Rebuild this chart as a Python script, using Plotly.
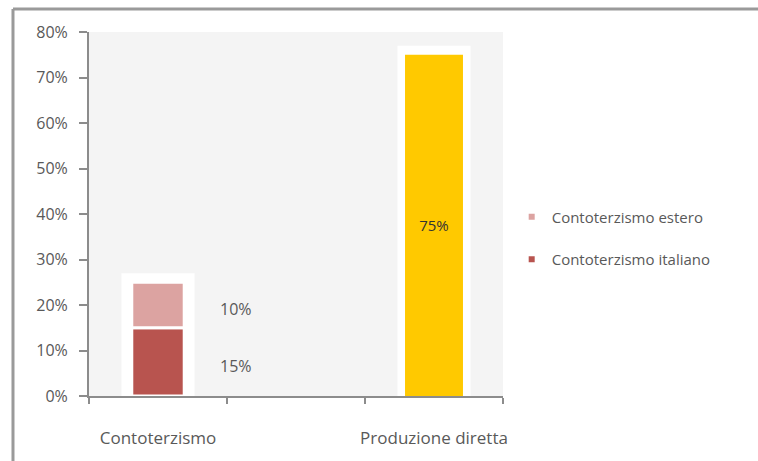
import plotly.graph_objects as go

# Category slots: the middle slot is intentionally empty
categories = ["Contoterzismo", "", "Produzione diretta"]
cat_pos = [0, 1, 2]

# Shares (%) for the stacked "Contoterzismo" column
italiano = [15]
estero = [10]
# Share (%) for the "Produzione diretta" column
diretta = [75]

y_ticks = [0, 10, 20, 30, 40, 50, 60, 70, 80]
y_labels = [f"{v}%" for v in y_ticks]

COL_ITALIANO = "#b8544f"
COL_ESTERO = "#dca3a1"
COL_DIRETTA = "#ffc900"
TEXT = "#595959"
AXIS = "#8c8c8c"
FONT = "Open Sans"

fig = go.Figure()

# white halo behind each column
totals = [italiano[0] + estero[0], diretta[0]]
fig.add_trace(go.Bar(
    x=[cat_pos[0], cat_pos[2]], y=[t + 2 for t in totals], width=0.53,
    marker=dict(color="white", line=dict(width=0)),
    showlegend=False, hoverinfo="skip",
))

# stacked segments (manual stacking in overlay mode)
fig.add_trace(go.Bar(
    x=[cat_pos[0]], y=italiano, width=0.38, name="Contoterzismo italiano",
    marker=dict(color=COL_ITALIANO, line=dict(color="white", width=3)),
    showlegend=False,
))
fig.add_trace(go.Bar(
    x=[cat_pos[0]], y=estero, base=italiano, width=0.38, name="Contoterzismo estero",
    marker=dict(color=COL_ESTERO, line=dict(color="white", width=3)),
    showlegend=False,
))
fig.add_trace(go.Bar(
    x=[cat_pos[2]], y=diretta, width=0.42, name="Produzione diretta",
    marker=dict(color=COL_DIRETTA, line=dict(width=0)),
    text=[f"{v}%" for v in diretta], textposition="inside",
    insidetextanchor="middle", textangle=0,
    textfont=dict(family=FONT, size=15, color="#333333"),
    showlegend=False,
))

# legend entries with small square swatches
for nm, col, grp in [("Contoterzismo estero", COL_ESTERO, "a"),
                     ("Contoterzismo italiano", COL_ITALIANO, "b")]:
    fig.add_trace(go.Scatter(
        x=[None], y=[None], mode="markers", name=nm, legendgroup=grp,
        marker=dict(symbol="square", size=6, color=col),
    ))

# value labels beside the stacked segments
for val, base in [(estero[0], italiano[0]), (italiano[0], 0)]:
    fig.add_annotation(
        x=cat_pos[0], y=base + val / 2, text=f"{val}%", showarrow=False,
        xshift=78, yshift=-4, font=dict(family=FONT, size=16, color=TEXT),
    )

# outer frame (top and left edges visible)
fig.add_shape(type="line", xref="paper", yref="paper",
              x0=-0.1836, x1=1.7, y0=1.0632, y1=1.0632,
              line=dict(color="#9a9a9a", width=3))
fig.add_shape(type="line", xref="paper", yref="paper",
              x0=-0.1836, x1=-0.1836, y0=-0.3, y1=1.0632,
              line=dict(color="#9a9a9a", width=3))

fig.update_layout(
    width=758, height=461,
    margin=dict(l=89, r=255, t=32, b=65),
    barmode="overlay",
    paper_bgcolor="white",
    plot_bgcolor="#f4f4f4",
    font=dict(family=FONT, size=17, color=TEXT),
    legend=dict(
        x=1.021, y=0.434, xanchor="left", yanchor="middle",
        font=dict(family=FONT, size=15, color=TEXT),
        tracegroupgap=20, itemwidth=30,
        bgcolor="rgba(0,0,0,0)",
    ),
    xaxis=dict(
        range=[-0.5, 2.5],
        tickmode="array", tickvals=cat_pos, ticktext=categories,
        ticks="", ticklabelstandoff=26,
        tickfont=dict(family=FONT, size=17, color=TEXT),
        showline=True, linecolor=AXIS, linewidth=2,
        showgrid=False, zeroline=False,
        minor=dict(ticks="outside", tickmode="array",
                   tickvals=[-0.5, 0.5, 1.5, 2.5],
                   ticklen=6, tickcolor=AXIS, tickwidth=2),
        fixedrange=True,
    ),
    yaxis=dict(
        range=[0, 80], tickmode="array", tickvals=y_ticks, ticktext=y_labels,
        ticks="outside", ticklen=8, tickcolor=AXIS, tickwidth=2,
        ticklabelstandoff=8,
        showline=True, linecolor=AXIS, linewidth=2,
        showgrid=False, zeroline=False,
        tickfont=dict(family=FONT, size=16, color=TEXT),
        fixedrange=True,
    ),
)

fig.write_html("out.html")
